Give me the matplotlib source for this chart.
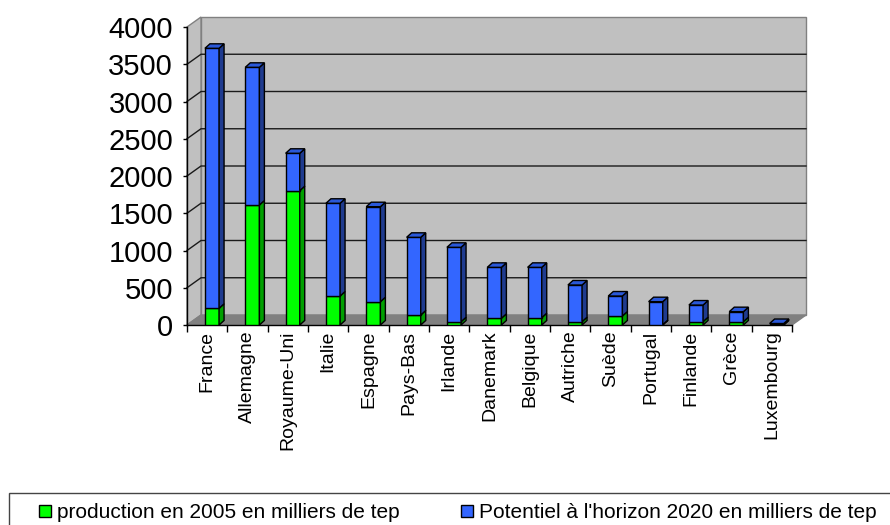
"""
Stacked 3D-look bar chart: biomass production 2005 and potential 2020 by country
"""
import numpy as np
from matplotlib import pyplot as plt
from matplotlib.patches import Polygon, Rectangle, Patch

countries = ["France", "Allemagne", "Royaume-Uni", "Italie", "Espagne", "Pays-Bas",
             "Irlande", "Danemark", "Belgique", "Autriche", "Suède", "Portugal",
             "Finlande", "Grèce", "Luxembourg"]
# stacked segments (milliers de tep)
production_2005 = [224, 1611, 1803, 389, 313, 134, 44, 90, 98, 45, 121, 5, 45, 45, 0]
potentiel_2020 = [3490, 1848, 502, 1245, 1275, 1043, 999, 684, 676, 492, 268, 308, 223, 134, 20]
y_ticks = list(range(0, 4001, 500))
legend_labels = ["production en 2005 en milliers de tep",
                 "Potentiel à l'horizon 2020 en milliers de tep"]

plt.rcParams['font.family'] = ['Liberation Sans', 'DejaVu Sans']

W, H = 890, 525
fig = plt.figure(figsize=(W / 100, H / 100), dpi=100)
ax_left, ax_bottom, ax_w, ax_h = 187, 200, 605, 298
ax = fig.add_axes([ax_left / W, ax_bottom / H, ax_w / W, ax_h / H])
n = len(countries)
ax.set_xlim(-0.5, n - 0.5)
ax.set_ylim(0, 4000)

# pixel -> data conversion, used for the fake depth
px_x = ax_w / n
px_y = ax_h / 4000
wall_dx, wall_dy = 14 / px_x, 10 / px_y
bar_dx, bar_dy = 5 / px_x, 4.5 / px_y

# walls and floor
x0, x1 = -0.5, n - 0.5
wall_kw = dict(clip_on=False, edgecolor="#808080", linewidth=1, zorder=0)
ax.add_patch(Polygon([(x0 + wall_dx, wall_dy), (x1 + wall_dx, wall_dy),
                      (x1 + wall_dx, 4000 + wall_dy), (x0 + wall_dx, 4000 + wall_dy)],
                     facecolor="#c0c0c0", **wall_kw))
ax.add_patch(Polygon([(x0, 0), (x0 + wall_dx, wall_dy), (x0 + wall_dx, 4000 + wall_dy),
                      (x0, 4000)], facecolor="#c0c0c0", **wall_kw))
ax.add_patch(Polygon([(x0, 0), (x1, 0), (x1 + wall_dx, wall_dy), (x0 + wall_dx, wall_dy)],
                     facecolor="#808080", **wall_kw))
for yv in y_ticks[1:-1]:
    ax.plot([x0, x0 + wall_dx, x1 + wall_dx], [yv, yv + wall_dy, yv + wall_dy],
            color="#1a1a1a", linewidth=1, clip_on=False, zorder=1)

# bars
x = np.arange(n) + 0.12
width = 0.35
bottoms = np.zeros(n)
series = [(production_2005, "#00ff00", "#00a000"), (potentiel_2020, "#3366ff", "#1f3b8f")]
for values, face, side in series:
    values = np.array(values, dtype=float)
    ax.bar(x, values, width, bottom=bottoms, color=face, edgecolor="black",
           linewidth=1, zorder=3)
    for i in range(n):
        xr = x[i] + width / 2
        b, t = bottoms[i], bottoms[i] + values[i]
        ax.add_patch(Polygon([(xr, b), (xr + bar_dx, b + bar_dy), (xr + bar_dx, t + bar_dy),
                              (xr, t)], facecolor=side, edgecolor="black", linewidth=1,
                             zorder=3, clip_on=False))
    bottoms += values
for i in range(n):
    xl, xr, t = x[i] - width / 2, x[i] + width / 2, bottoms[i]
    ax.add_patch(Polygon([(xl, t), (xr, t), (xr + bar_dx, t + bar_dy), (xl + bar_dx, t + bar_dy)],
                         facecolor="#2a58d8", edgecolor="black", linewidth=1, zorder=3,
                         clip_on=False))

# axes styling
for s in ["top", "right"]:
    ax.spines[s].set_visible(False)
for s in ["left", "bottom"]:
    ax.spines[s].set_color("black")
    ax.spines[s].set_linewidth(1)
    ax.spines[s].set_zorder(2.5)
ax.set_facecolor("none")
ax.set_yticks(y_ticks)
ax.tick_params(axis="y", direction="out", length=3, width=1, pad=7, labelsize=21)
ax.set_xticks(np.arange(-0.5, n, 1.0))
ax.set_xticklabels([])
ax.set_xticks(np.arange(n), minor=True)
ax.set_xticklabels(countries, minor=True, rotation=90, fontsize=14, va="top")
ax.tick_params(axis="x", which="major", direction="out", length=5, width=1)
ax.tick_params(axis="x", which="minor", length=0, pad=4)

# legend
handles = [Patch(facecolor=c, edgecolor="black", linewidth=1) for _, c, _ in series]
fig.legend(handles, legend_labels, ncol=2, loc="center left",
           bbox_to_anchor=(39 / W, 12 / H), frameon=False, fontsize=15, borderpad=0,
           borderaxespad=0, handlelength=0.58, handleheight=0.56, handletextpad=0.28,
           columnspacing=2.95)
fig.patches.append(Rectangle((9 / W, -0.1), 1.2, 32 / H + 0.1, transform=fig.transFigure,
                             fill=False, edgecolor="#444444", linewidth=1))

plt.savefig("out.png", dpi=100)
